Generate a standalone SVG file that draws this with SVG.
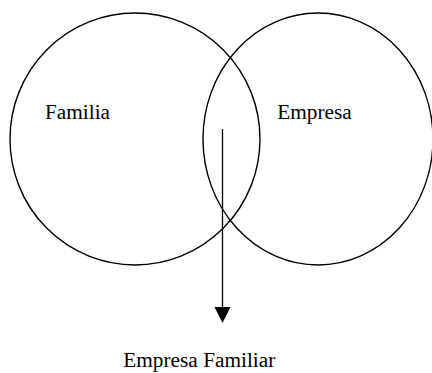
<svg xmlns="http://www.w3.org/2000/svg" width="432" height="373" viewBox="0 0 432 373">
<style>
.c{fill:none;stroke:#000;stroke-width:1.4}
text{font-family:'Liberation Serif','DejaVu Serif',serif;font-size:21.3px;fill:#000}
</style>
<rect width="432" height="373" fill="#fff"/>
<g id="familia">
<ellipse class="c" cx="135" cy="139" rx="125" ry="126"/>
<text x="45" y="119" font-family="Liberation Serif, serif">Familia</text>
</g>
<g id="empresa">
<ellipse class="c" cx="318" cy="139" rx="115" ry="126"/>
<text x="277.3" y="119" font-family="Liberation Serif, serif">Empresa</text>
</g>
<g id="connectors">
<line x1="222.5" y1="129" x2="222.5" y2="308" stroke="#000" stroke-width="1.3"/>
<polygon points="214.5,307 230.5,307 222.5,323" fill="#000"/>
</g>
<g id="empresa-familiar">
<text x="123.3" y="367" font-family="Liberation Serif, serif">Empresa Familiar</text>
</g>
</svg>
